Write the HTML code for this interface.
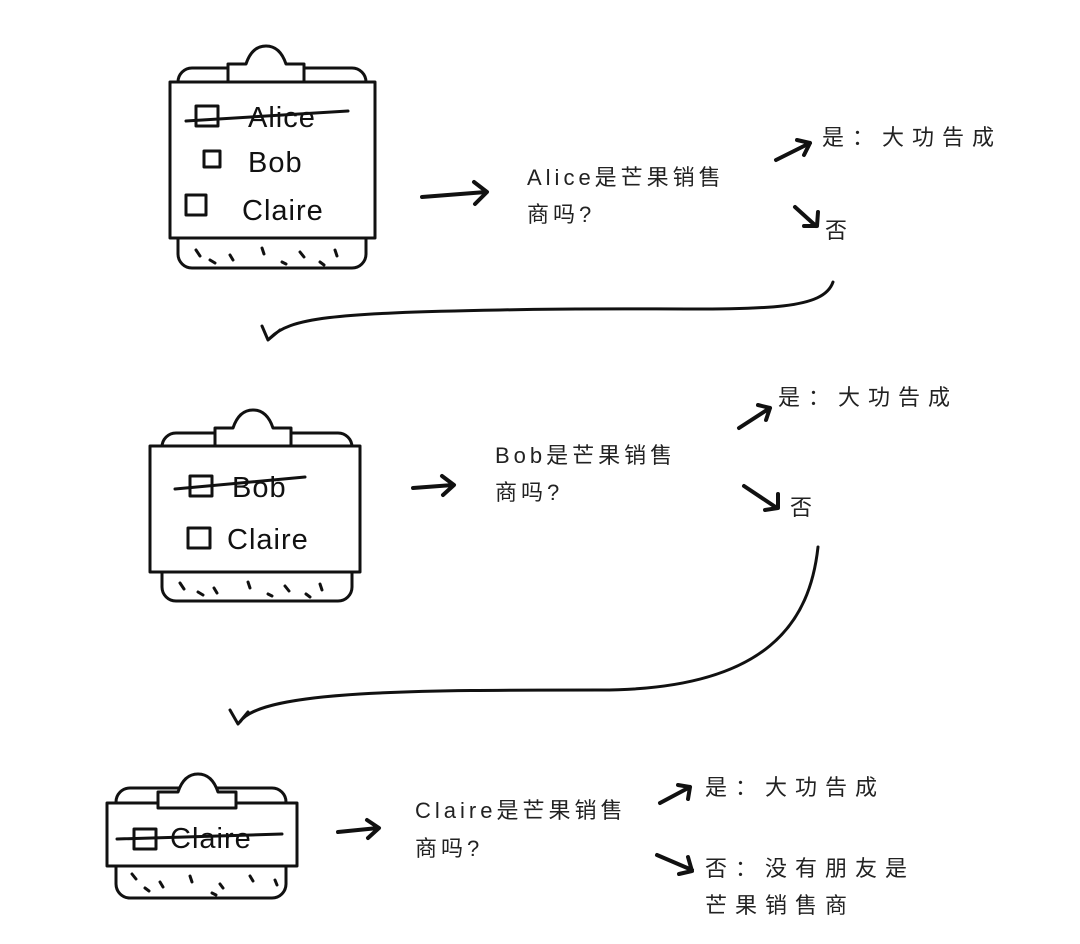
<!DOCTYPE html>
<html><head><meta charset="utf-8"><style>
html,body{margin:0;padding:0;background:#fff;}
svg{display:block}
.t{font-family:"Liberation Sans","Noto Sans CJK SC",sans-serif;font-size:22px;fill:#222;letter-spacing:4px}
.y{letter-spacing:8px}
.h{font-family:"Liberation Sans","Noto Sans CJK SC",sans-serif;font-size:29px;fill:#111;letter-spacing:1px}
.s{fill:none;stroke:#111;stroke-width:3;stroke-linecap:round;stroke-linejoin:round}
.a{fill:none;stroke:#111;stroke-width:4;stroke-linecap:round;stroke-linejoin:round}
.p{fill:#fff;stroke:#111;stroke-width:3;stroke-linejoin:round}
</style></head><body>
<svg width="1080" height="944" viewBox="0 0 1080 944" xmlns="http://www.w3.org/2000/svg">
<!-- clipboard 1 -->
<rect x="178" y="68" width="188" height="200" rx="14" class="p"/>
<g class="s" stroke-width="2"><path d="M196 250l4 6M230 255l3 5M262 248l2 6M300 252l4 5M335 250l2 6M210 260l5 3M282 262l4 2M320 262l4 3"/></g>
<rect x="170" y="82" width="205" height="156" class="p"/>
<path d="M228 82v-18h18q6-18 20-18t20 18h18v18z" class="p"/>
<rect x="186" y="195" width="20" height="20" class="s"/>
<rect x="204" y="151" width="16" height="16" class="s"/>
<rect x="196" y="106" width="22" height="20" class="s"/>
<text x="248" y="127" class="h">Alice</text>
<path d="M186 121L348 111" class="s" stroke-width="5"/>
<text x="248" y="172" class="h">Bob</text>
<text x="242" y="220" class="h">Claire</text>
<!-- text 1 -->
<path d="M422 197L486 192M474 182l13 10-12 12" class="a"/>
<text x="527" y="185" class="t">Alice是芒果销售</text>
<text x="527" y="222" class="t">商吗?</text>
<path d="M776 160L810 143M797 140l13 3-6 12" class="a"/>
<text x="822" y="145" class="t y">是：大功告成</text>
<path d="M795 207L816 226M818 212l-1 14-13 0" class="a"/>
<text x="825" y="238" class="t">否</text>
<path d="M833 282C820 320 720 305 500 310C330 313 290 318 270 338M262 326l6 14 12-10" class="s"/>
<!-- clipboard 2 -->
<rect x="162" y="433" width="190" height="168" rx="14" class="p"/>
<g class="s" stroke-width="2"><path d="M180 583l4 6M214 588l3 5M248 582l2 6M285 586l4 5M320 584l2 6M198 592l5 3M268 594l4 2M306 594l4 3"/></g>
<rect x="150" y="446" width="210" height="126" class="p"/>
<path d="M215 446v-18h18q6-18 20-18t20 18h18v18z" class="p"/>
<rect x="190" y="476" width="22" height="20" class="s"/>
<text x="232" y="497" class="h">Bob</text>
<path d="M175 489L305 477" class="s" stroke-width="5"/>
<rect x="188" y="528" width="22" height="20" class="s"/>
<text x="227" y="549" class="h">Claire</text>
<path d="M413 488L453 485M442 476l12 9-11 10" class="a"/>
<text x="495" y="463" class="t">Bob是芒果销售</text>
<text x="495" y="500" class="t">商吗?</text>
<path d="M739 428L770 408M758 405l12 3-4 12" class="a"/>
<text x="778" y="405" class="t y">是：大功告成</text>
<path d="M744 486L777 508M778 494l0 14-13 2" class="a"/>
<text x="790" y="515" class="t">否</text>
<path d="M818 547C810 620 770 690 600 690C420 690 260 690 240 722M230 710l8 14 10-12" class="s"/>
<!-- clipboard 3 -->
<rect x="116" y="788" width="170" height="110" rx="14" class="p"/>
<g class="s" stroke-width="2"><path d="M132 874l4 5M160 882l3 5M190 876l2 6M220 884l3 4M250 876l3 5M275 880l2 5M145 888l4 3M212 893l4 2"/></g>
<rect x="107" y="803" width="190" height="63" class="p"/>
<path d="M158 808v-16h20q6-18 20-18t20 18h18v16z" class="p"/>
<rect x="134" y="829" width="22" height="20" class="s"/>
<text x="170" y="848" class="h">Claire</text>
<path d="M117 839L282 834" class="s" stroke-width="3"/>
<path d="M338 832L378 828M367 820l12 8-11 10" class="a"/>
<text x="415" y="818" class="t">Claire是芒果销售</text>
<text x="415" y="856" class="t">商吗?</text>
<path d="M660 803L690 787M678 785l12 2-2 12" class="a"/>
<text x="705" y="795" class="t y">是：大功告成</text>
<path d="M657 855L692 870M688 857l4 14-13 3" class="a"/>
<text x="705" y="876" class="t y">否：没有朋友是</text>
<text x="705" y="913" class="t y">芒果销售商</text>
</svg>
</body></html>
